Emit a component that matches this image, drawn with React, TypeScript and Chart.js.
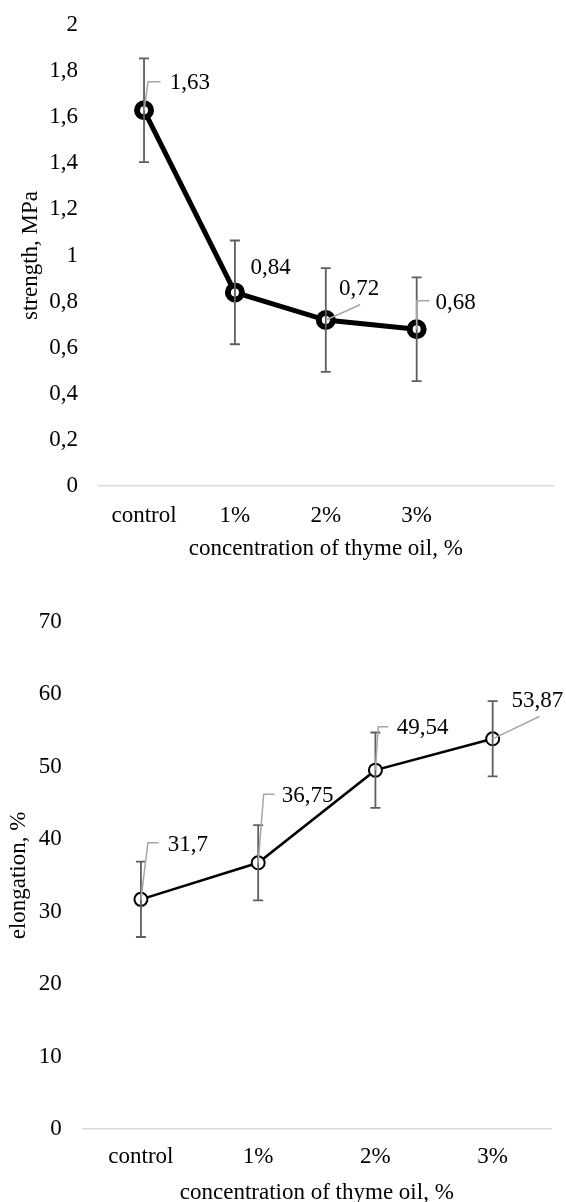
import React, { useEffect, useRef } from 'react';
import { Chart, registerables } from 'chart.js';

Chart.register(...registerables);

// ---------- data ----------
const strengthCategories = ['control', '1%', '2%', '3%', ''];
const strengthValues: (number | null)[] = [1.63, 0.84, 0.72, 0.68, null];
const strengthErrors: (number | null)[] = [0.225, 0.225, 0.225, 0.225, null];
const strengthTickMin = 0;
const strengthTickMax = 2;
const strengthTickStep = 0.2;

const elongationCategories = ['control', '1%', '2%', '3%'];
const elongationValues: number[] = [31.7, 36.75, 49.54, 53.87];
const elongationErrors: number[] = [5.2, 5.2, 5.2, 5.2];
const elongationTickMin = 0;
const elongationTickMax = 70;
const elongationTickStep = 10;

const xTitle = 'concentration of thyme oil, %';
const strengthTitle = 'strength, MPa';
const elongationTitle = 'elongation, %';

// ---------- styles ----------
const FONT_FAMILY = "'Liberation Serif', 'Times New Roman', serif";
const FONT_SIZE = 23;

const comma = (v: number) => String(Number(v.toFixed(2))).replace('.', ',');

// label offsets (relative to point) and leader paths (relative to point)
const strengthLabelOffsets = [[25.8, -27.3], [15.5, -24.4], [13.2, -31], [18.7, -26.3]];
const strengthLeaders = [
  [[0, 0], [4, -28.6], [16.5, -28.6]],
  null,
  [[0, 0], [34.3, -15.3]],
  [[0, 0], [0, -28.6], [12.7, -28.6]],
];
const elongationLabelOffsets = [[26.9, -54.4], [23.6, -66.8], [21.2, -42.2], [18.9, -38.1]];
const elongationLeaders = [
  [[0, 0], [7, -56.7], [17.8, -56.7]],
  [[0, 0], [5.5, -68.5], [16.4, -68.5]],
  [[0, 0], [2.8, -43.5], [12.8, -43.5]],
  [[0, 0], [46.7, -22.3]],
];

const calloutPlugin = {
  id: 'callouts',
  afterDatasetsDraw(chart: any, _args: any, opts: any) {
    const ctx = chart.ctx;
    const meta = chart.getDatasetMeta(0);
    const data = chart.data.datasets[0].data;
    const yScale = chart.scales.y;
    ctx.save();
    // error bars
    meta.data.forEach((pt: any, i: number) => {
      const v = data[i];
      const e = opts.errors[i];
      if (v == null || e == null) return;
      const yTop = yScale.getPixelForValue(v + e);
      const yBot = yScale.getPixelForValue(v - e);
      ctx.strokeStyle = '#5f5f5f';
      ctx.lineWidth = 1.8;
      ctx.beginPath();
      ctx.moveTo(pt.x, yTop);
      ctx.lineTo(pt.x, yBot);
      ctx.moveTo(pt.x - 5, yTop);
      ctx.lineTo(pt.x + 5, yTop);
      ctx.moveTo(pt.x - 5, yBot);
      ctx.lineTo(pt.x + 5, yBot);
      ctx.stroke();
    });
    // leaders
    meta.data.forEach((pt: any, i: number) => {
      const path = opts.leaders[i];
      if (!path || data[i] == null) return;
      ctx.strokeStyle = '#a6a6a6';
      ctx.lineWidth = 1.5;
      ctx.beginPath();
      path.forEach((p: number[], k: number) => {
        if (k === 0) ctx.moveTo(pt.x + p[0], pt.y + p[1]);
        else ctx.lineTo(pt.x + p[0], pt.y + p[1]);
      });
      ctx.stroke();
    });
    // labels
    ctx.font = `${FONT_SIZE}px ${FONT_FAMILY}`;
    ctx.fillStyle = '#000';
    ctx.textAlign = 'left';
    ctx.textBaseline = 'middle';
    meta.data.forEach((pt: any, i: number) => {
      const v = data[i];
      const off = opts.offsets[i];
      if (v == null || !off) return;
      ctx.fillText(comma(v), pt.x + off[0], pt.y + off[1]);
    });
    ctx.restore();
  },
};

function makeConfig(p: {
  labels: string[];
  values: (number | null)[];
  errors: (number | null)[];
  min: number;
  max: number;
  step: number;
  yTitle: string;
  lineWidth: number;
  pointRadius: number;
  pointBorder: number;
  yWidth: number;
  xHeight: number;
  yTitlePad: number;
  xTickPad: number;
  padding: any;
  offsets: number[][];
  leaders: any[];
}) {
  const font = { family: FONT_FAMILY, size: FONT_SIZE, lineHeight: 1.2 };
  return {
    type: 'line' as const,
    data: {
      labels: p.labels,
      datasets: [
        {
          data: p.values,
          borderColor: '#000',
          borderWidth: p.lineWidth,
          pointRadius: p.pointRadius,
          pointBorderWidth: p.pointBorder,
          pointBackgroundColor: '#fff',
          pointBorderColor: '#000',
          tension: 0,
          fill: false,
        },
      ],
    },
    options: {
      responsive: false,
      animation: false as const,
      devicePixelRatio: 1,
      layout: { padding: p.padding },
      plugins: {
        legend: { display: false },
        tooltip: { enabled: false },
        callouts: { errors: p.errors, offsets: p.offsets, leaders: p.leaders },
      },
      scales: {
        x: {
          type: 'category' as const,
          offset: true,
          grid: { display: false, drawTicks: false, tickLength: 0 },
          border: { display: true, color: '#d9d9d9', width: 1.5 },
          ticks: { font, color: '#000', padding: p.xTickPad, maxRotation: 0, autoSkip: false },
          title: { display: true, text: xTitle, font, color: '#000', padding: 0 },
          afterFit: (s: any) => {
            s.height = p.xHeight;
            s.paddingLeft = 0;
            s.paddingRight = 0;
          },
        },
        y: {
          min: p.min,
          max: p.max,
          grid: { display: false, drawTicks: false, tickLength: 0 },
          border: { display: false },
          ticks: {
            stepSize: p.step,
            font,
            color: '#000',
            padding: 20.6,
            callback: (v: any) => comma(Number(v)),
          },
          title: {
            display: true,
            text: p.yTitle,
            font,
            color: '#000',
            padding: { top: p.yTitlePad, bottom: 0 },
          },
          afterFit: (s: any) => {
            s.width = p.yWidth;
            s.paddingTop = 0;
            s.paddingBottom = 0;
          },
        },
      },
    },
    plugins: [calloutPlugin],
  };
}

export default function App() {
  const topRef = useRef<HTMLCanvasElement>(null);
  const botRef = useRef<HTMLCanvasElement>(null);

  useEffect(() => {
    document.body.style.margin = '0';
    const top = new Chart(
      topRef.current as HTMLCanvasElement,
      makeConfig({
        labels: strengthCategories,
        values: strengthValues,
        errors: strengthErrors,
        min: strengthTickMin,
        max: strengthTickMax,
        step: strengthTickStep,
        yTitle: strengthTitle,
        lineWidth: 5,
        pointRadius: 7,
        pointBorder: 6,
        yWidth: 98.6,
        xHeight: 76.8,
        yTitlePad: 17.2,
        xTickPad: 16,
        padding: { left: 0, right: 11, top: 25, bottom: 27.2 },
        offsets: strengthLabelOffsets,
        leaders: strengthLeaders,
      }) as any
    );
    const bot = new Chart(
      botRef.current as HTMLCanvasElement,
      makeConfig({
        labels: elongationCategories,
        values: elongationValues,
        errors: elongationErrors,
        min: elongationTickMin,
        max: elongationTickMax,
        step: elongationTickStep,
        yTitle: elongationTitle,
        lineWidth: 2.5,
        pointRadius: 6.5,
        pointBorder: 2,
        yWidth: 82.3,
        xHeight: 78.2,
        yTitlePad: 5.2,
        xTickPad: 14,
        padding: { left: 0, right: 14.7, top: 32, bottom: 12.9 },
        offsets: elongationLabelOffsets,
        leaders: elongationLeaders,
      }) as any
    );
    return () => {
      top.destroy();
      bot.destroy();
    };
  }, []);

  return (
    <div style={{ position: 'relative', width: 566, height: 1202, overflow: 'hidden', background: '#fff' }}>
      <canvas ref={topRef} width={566} height={590} style={{ position: 'absolute', left: 0, top: 0 }} />
      <canvas ref={botRef} width={566} height={630} style={{ position: 'absolute', left: 0, top: 590 }} />
    </div>
  );
}
